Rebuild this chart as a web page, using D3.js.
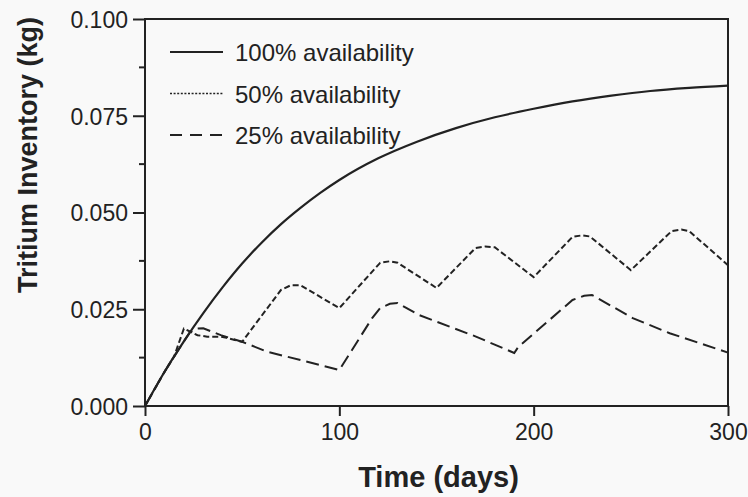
<!DOCTYPE html>
<html>
<head>
<meta charset="utf-8">
<script src="https://cdn.jsdelivr.net/npm/d3@7"></script>
<style>
  body { margin: 0; background: #f9f9f9; }
  svg { display: block; }
  .axis text { font-family: "Liberation Sans", Arial, sans-serif; font-size: 23px; fill: #222; }
  .axis path, .axis line { stroke: #222; stroke-width: 2; }
</style>
</head>
<body>
<svg width="748" height="497"></svg>
<script>
// values (days, kg)
var days100 = [0, 10, 20, 30, 40, 50, 60, 70, 80, 90, 100, 120, 140, 160, 180, 200, 220, 240, 260, 280, 300];
var inv100 = [0, 0.0088, 0.0167, 0.024, 0.0307, 0.0368, 0.0422, 0.047, 0.0512, 0.055, 0.0584, 0.064, 0.0683, 0.0718, 0.0746, 0.0768, 0.0787, 0.0802, 0.0814, 0.0822, 0.0828];

var days50 = [0, 10, 15, 20, 27, 32, 39, 42, 50, 70, 75, 80, 100, 121, 126, 130, 150, 170, 175, 180, 200, 220, 225, 229, 250, 271, 276, 280, 300];
var inv50 = [0, 0.0088, 0.0128, 0.0200, 0.0183, 0.0179, 0.0179, 0.0176, 0.0166, 0.0300, 0.0312, 0.0312, 0.0253, 0.0370, 0.0374, 0.0370, 0.0305, 0.0408, 0.0412, 0.0410, 0.0333, 0.0437, 0.0441, 0.0438, 0.0351, 0.0452, 0.0456, 0.0452, 0.0364];

var days25 = [0, 10, 20, 23, 27, 30, 39, 50, 63, 83, 100, 117, 121, 126, 130, 141, 170, 190, 192, 220, 226, 230, 251, 270, 285, 300];
var inv25 = [0, 0.0088, 0.0167, 0.0190, 0.0200, 0.0201, 0.0183, 0.0166, 0.0140, 0.0115, 0.0093, 0.0228, 0.0253, 0.0264, 0.0266, 0.0235, 0.0180, 0.0137, 0.0152, 0.0274, 0.0285, 0.0287, 0.0227, 0.0188, 0.0163, 0.0138];

var legendNames = ["100% availability", "50% availability", "25% availability"];
var xTicks = [0, 100, 200, 300];
var yTicks = [0, 0.025, 0.05, 0.075, 0.1];
var yMinor = [0.0125, 0.0375, 0.0625, 0.0875];

var svg = d3.select("svg"),
    plotL = 145, plotR = 728, plotT = 19, plotB = 406,
    ink = "#222";

var x = d3.scaleLinear().domain([0, 300]).range([plotL, plotR]);
var y = d3.scaleLinear().domain([0, 0.1]).range([plotB, plotT]);

function pts(ds, vs) { return ds.map(function(d, i) { return [d, vs[i]]; }); }

var series = [
  { name: legendNames[0], data: pts(days100, inv100), dash: null, legDash: null, curve: d3.curveMonotoneX },
  { name: legendNames[1], data: pts(days50, inv50), dash: "6,3", legDash: "2,1.6", curve: d3.curveLinear },
  { name: legendNames[2], data: pts(days25, inv25), dash: "13,6", legDash: "12,8", curve: d3.curveLinear }
];

// minor y ticks
svg.selectAll(".minor")
  .data(yMinor)
  .enter().append("line")
    .attr("x1", plotL - 6).attr("x2", plotL)
    .attr("y1", function(d) { return y(d); })
    .attr("y2", function(d) { return y(d); })
    .attr("stroke", ink).attr("stroke-width", 2);

var yAxis = svg.append("g")
    .attr("class", "axis")
    .attr("transform", "translate(" + plotL + ",0)")
    .call(d3.axisLeft(y).tickValues(yTicks).tickFormat(d3.format(".3f")).tickSize(12).tickPadding(5));
yAxis.select(".domain").remove();
yAxis.selectAll("text").attr("dy", "0.36em");

var xAxis = svg.append("g")
    .attr("class", "axis")
    .attr("transform", "translate(0," + plotB + ")")
    .call(d3.axisBottom(x).tickValues(xTicks).tickFormat(d3.format("d")).tickSize(10).tickPadding(8));
xAxis.select(".domain").remove();

// frame
svg.append("rect")
    .attr("x", plotL).attr("y", plotT)
    .attr("width", plotR - plotL).attr("height", plotB - plotT)
    .attr("fill", "none").attr("stroke", ink).attr("stroke-width", 2);

svg.selectAll(".series")
  .data(series)
  .enter().append("path")
    .attr("class", "series")
    .attr("fill", "none")
    .attr("stroke", ink)
    .attr("stroke-width", function(d) { return d.dash ? 2 : 2.2; })
    .attr("stroke-dasharray", function(d) { return d.dash; })
    .attr("d", function(d) {
      return d3.line().curve(d.curve)
        .x(function(p) { return x(p[0]); })
        .y(function(p) { return y(p[1]); })(d.data);
    });

// legend
var leg = svg.selectAll(".leg")
  .data(series)
  .enter().append("g")
    .attr("class", "leg")
    .attr("transform", function(d, i) { return "translate(170," + (52 + i * 41.5) + ")"; });

leg.append("line")
    .attr("x1", 0).attr("x2", 53)
    .attr("stroke", ink)
    .attr("stroke-width", function(d, i) { return i == 1 ? 1.6 : 2; })
    .attr("stroke-dasharray", function(d) { return d.legDash; });

leg.append("text")
    .attr("x", 65).attr("y", 9)
    .style("font-family", "Liberation Sans, Arial, sans-serif")
    .style("font-size", "24px")
    .attr("fill", ink)
    .text(function(d) { return d.name; });

// axis titles
svg.append("text")
    .attr("x", (plotL + plotR) / 2 + 2).attr("y", 487)
    .attr("text-anchor", "middle")
    .style("font-family", "Liberation Sans, Arial, sans-serif")
    .style("font-size", "29px").style("font-weight", "bold")
    .attr("fill", ink)
    .text("Time (days)");

svg.append("text")
    .attr("transform", "translate(37,293) rotate(-90)")
    .attr("text-anchor", "start")
    .style("font-family", "Liberation Sans, Arial, sans-serif")
    .style("font-size", "27px").style("font-weight", "bold")
    .attr("fill", ink)
    .text("Tritium Inventory (kg)");
</script>
</body>
</html>
